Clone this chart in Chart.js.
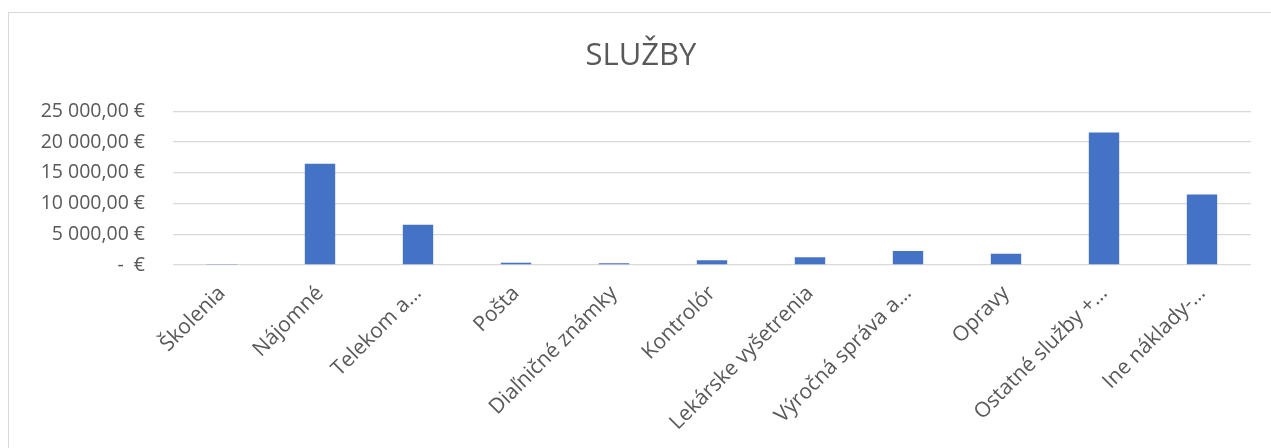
<!DOCTYPE html>
<html>
<head>
<meta charset="utf-8">
<script src="https://cdn.jsdelivr.net/npm/chart.js@4/dist/chart.umd.min.js"></script>
<style>
    body { margin: 0; background: #fff; }
    .frame {
        position: absolute; left: 8px; top: 12px; width: 1300px; height: 460px;
        border-left: 1px solid #d9d9d9; border-top: 1px solid #d9d9d9;
    }
    .wrap { position: absolute; left: 0; top: 0; width: 1271px; height: 448px; }
</style>
</head>
<body>
<div class="frame"></div>
<div class="wrap"><canvas id="chart"></canvas></div>
<script>
// kategórie (skrátené ako v Exceli)
const categories = ['Školenia', 'Nájomné', 'Telekom a…', 'Pošta', 'Diaľničné známky', 'Kontrolór',
    'Lekárske vyšetrenia', 'Výročná správa a…', 'Opravy', 'Ostatné služby +…', 'Ine náklady-…'];
const values = [100, 16450, 6550, 380, 300, 760, 1250, 2270, 1830, 21550, 11480];
const yTicks = [0, 5000, 10000, 15000, 20000, 25000];

const textColor = '#595959';
const fontFamily = "'Open Sans', 'Noto Sans', sans-serif";

function formatEuro(v) {
    if (v == 0) {
        return '-  €';
    }
    const s = Math.round(v).toString().replace(/\B(?=(\d{3})+(?!\d))/g, ' ');
    return s + ',00 €';
}

const canvas = document.getElementById('chart');
new Chart(canvas, {
    type: 'bar',
    data: {
        labels: categories,
        datasets: [{
            label: 'Služby',
            data: values,
            backgroundColor: '#4472c4',
            borderWidth: 0,
            barPercentage: 0.62,
            categoryPercentage: 0.5
        }]
    },
    options: {
        responsive: true,
        maintainAspectRatio: false,
        animation: false,
        layout: { padding: { left: 31, right: 20, top: 0, bottom: 0 } },
        plugins: {
            legend: { display: false },
            tooltip: { enabled: false },
            title: {
                display: true,
                text: 'SLUŽBY',
                color: textColor,
                font: { family: fontFamily, size: 31, weight: 'normal', lineHeight: 1.2 },
                padding: { top: 38, bottom: 36 }
            }
        },
        scales: {
            x: {
                grid: { display: false },
                border: { display: false },
                afterFit: (axis) => { axis.height = 183; },
                ticks: {
                    color: textColor,
                    font: { family: fontFamily, size: 21 },
                    padding: 8,
                    minRotation: 45,
                    maxRotation: 45,
                    autoSkip: false
                }
            },
            y: {
                min: 0,
                max: 25000,
                afterBuildTicks: (axis) => {
                    axis.ticks = yTicks.map(v => ({ value: v }));
                },
                afterFit: (axis) => { axis.width = 142; },
                grid: { color: '#d9d9d9', lineWidth: 1.3, drawTicks: false },
                border: { display: false },
                ticks: {
                    color: textColor,
                    font: { family: fontFamily, size: 19.5 },
                    padding: 28,
                    callback: (v) => formatEuro(v)
                }
            }
        }
    }
});
</script>
</body>
</html>
